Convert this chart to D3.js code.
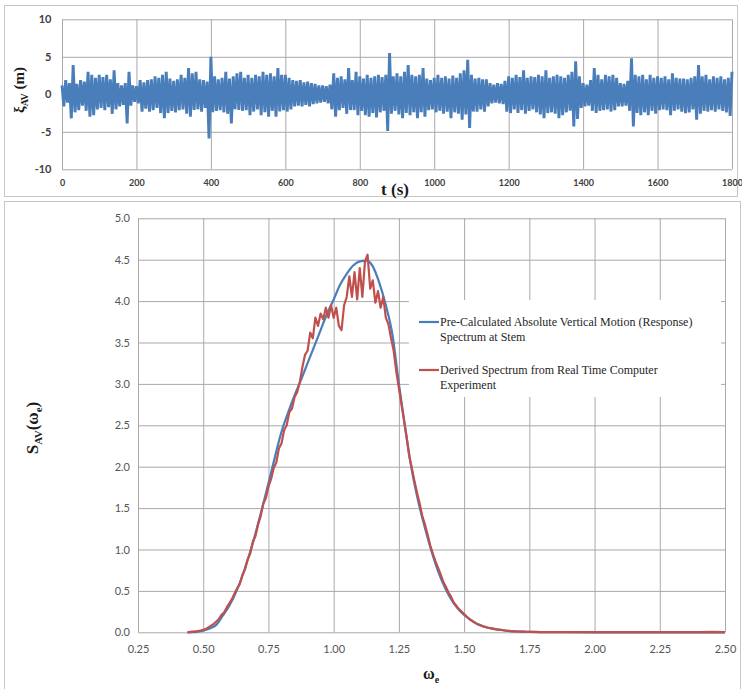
<!DOCTYPE html>
<html>
<head>
<meta charset="utf-8">
<script src="https://cdn.jsdelivr.net/npm/d3@7"></script>
<style>
  body { margin: 0; background: #fff; }
  svg { display: block; }
  .grid line { stroke: #a9a9a9; stroke-width: 1; }
  .grid path { display: none; }
  .ax path, .ax line { display: none; }
  .topTick text { font-family: Lato, "Open Sans", sans-serif; font-weight: bold; fill: #404040; }
  .botTick text { font-family: Lato, "Open Sans", sans-serif; fill: #555; font-size: 11px; }
  .title { font-family: "Liberation Serif", "DejaVu Serif", serif; font-weight: bold; fill: #1a1a1a; }
  .legend text { font-family: "Liberation Serif", "DejaVu Serif", serif; font-size: 12px; fill: #262626; }
</style>
</head>
<body>
<svg id="chart" width="742" height="689"></svg>
<script>
// heave record, one extreme every 5 s
var heaveStep = 5;
var heave = [
  1.2,-1.6,1.9,-1.1,1.5,-3.2,3.9,-2.4,1.4,-2.1,1.9,-1.5,1.7,-2.2,3.0,-3.0,2.6,-2.8,2.2,-2.0,
  2.6,-1.8,2.3,-2.1,2.6,-1.7,2.0,-2.6,3.2,-2.0,1.5,-1.6,1.2,-1.4,1.5,-3.9,3.0,-1.5,1.2,-1.0,
  1.1,-1.2,1.9,-2.3,1.6,-1.9,1.9,-2.3,2.0,-2.1,2.4,-1.8,2.2,-2.5,2.6,-3.2,3.0,-2.5,2.1,-2.2,
  1.8,-2.4,2.0,-2.1,2.6,-2.0,2.2,-2.6,3.5,-3.0,2.8,-2.1,3.0,-2.0,2.0,-2.3,1.9,-1.8,1.7,-5.9,
  5.0,-2.4,2.4,-2.2,2.0,-2.1,2.2,-2.4,3.0,-2.6,2.1,-3.9,2.4,-2.0,2.8,-2.1,3.0,-2.2,2.2,-2.1,
  2.6,-2.8,2.2,-2.3,2.6,-2.0,2.4,-2.8,3.0,-2.4,2.6,-3.0,2.8,-2.2,2.4,-3.0,3.5,-2.3,2.6,-2.1,
  2.6,-2.3,2.2,-2.0,1.9,-1.6,1.8,-1.5,1.9,-1.6,1.6,-1.4,1.7,-1.6,1.5,-1.3,1.4,-1.2,1.2,-1.1,
  1.2,-1.0,1.1,-1.2,1.3,-2.0,2.8,-3.0,2.2,-2.1,2.4,-1.8,2.0,-2.6,3.5,-2.1,1.9,-2.1,3.0,-2.8,
  2.4,-2.2,2.1,-2.8,2.6,-3.0,2.2,-2.5,2.4,-3.1,2.6,-2.4,2.3,-2.2,2.6,-4.9,5.5,-2.6,2.4,-2.2,
  2.8,-2.7,2.4,-3.2,3.0,-2.5,3.9,-2.8,2.6,-2.4,2.4,-3.2,2.6,-2.4,3.5,-3.0,2.1,-2.1,1.9,-2.0,
  2.2,-2.4,2.6,-2.2,2.2,-2.6,2.4,-2.3,2.1,-3.2,2.5,-2.4,2.2,-2.6,2.8,-3.4,3.2,-2.7,4.6,-4.5,
  2.6,-2.3,2.1,-2.3,2.2,-2.0,2.0,-2.3,2.0,-1.6,1.5,-1.2,1.3,-1.1,1.5,-1.2,1.4,-1.3,1.8,-2.3,
  2.4,-2.5,2.2,-2.0,2.6,-2.5,2.3,-2.1,3.2,-2.6,2.2,-2.2,2.4,-2.0,2.3,-2.4,2.6,-2.7,2.4,-3.2,
  3.2,-2.5,2.2,-2.4,2.4,-2.6,2.6,-3.2,2.4,-2.8,2.2,-2.4,2.6,-2.2,3.0,-4.3,4.4,-3.3,2.4,-1.8,
  1.5,-1.6,1.3,-1.5,1.9,-2.2,3.5,-2.5,2.6,-2.2,2.0,-2.1,2.6,-2.0,2.4,-2.3,2.6,-2.1,2.2,-1.6,
  1.5,-1.6,1.4,-1.5,1.8,-2.2,4.8,-4.3,2.6,-2.5,2.4,-2.8,2.6,-2.4,2.0,-2.8,2.6,-2.2,2.2,-2.6,
  2.4,-2.1,2.2,-2.0,2.4,-2.1,2.0,-2.8,2.8,-2.2,2.2,-2.0,2.1,-2.3,2.1,-2.5,2.0,-2.4,2.2,-2.0,
  2.4,-3.4,3.9,-2.6,2.4,-2.2,2.6,-2.3,2.0,-2.1,2.4,-2.3,2.2,-2.0,2.4,-2.2,2.0,-2.4,2.2,-2.9,
  3.0
];

// pre-calculated response spectrum (blue)
var omegaPre = [0.44,0.475,0.50,0.525,0.55,0.575,0.60,0.625,0.65,0.675,0.70,0.725,0.75,0.775,0.80,0.825,
  0.85,0.875,0.90,0.925,0.95,0.975,1.00,1.025,1.05,1.075,1.10,1.125,1.15,1.175,1.20,1.225,1.25,1.275,
  1.30,1.325,1.35,1.375,1.40,1.425,1.45,1.475,1.50,1.525,1.55,1.575,1.60,1.65,1.70,1.75,1.80,1.90,2.00,2.50];
var specPre = [0,0.005,0.02,0.045,0.09,0.20,0.32,0.48,0.68,0.92,1.19,1.49,1.80,2.12,2.42,2.65,
  2.86,3.05,3.25,3.45,3.65,3.85,4.02,4.20,4.33,4.43,4.48,4.49,4.42,4.22,3.95,3.60,3.00,2.45,
  1.95,1.57,1.26,0.98,0.74,0.55,0.40,0.29,0.21,0.15,0.10,0.07,0.05,0.025,0.01,0.005,0.002,0.001,0,0];

// derived spectrum from the experiment (red), every 0.01 from 0.44
var expStart = 0.44, expStep = 0.01;
var specExp = [
  0,0.005,0.008,0.01,0.015,0.02,0.03,0.04,0.06,0.08,
  0.10,0.13,0.16,0.21,0.24,0.30,0.35,0.40,0.47,0.53,
  0.58,0.69,0.76,0.88,0.95,1.09,1.16,1.30,1.40,1.55,
  1.62,1.76,1.85,1.98,2.05,2.22,2.28,2.44,2.50,2.66,
  2.70,2.84,2.90,3.02,3.20,3.35,3.40,3.62,3.55,3.80,
  3.70,3.85,3.78,3.92,3.80,3.95,3.80,3.92,3.70,3.65,
  3.95,4.05,4.30,4.05,4.35,4.02,4.40,4.05,4.48,4.56,
  4.15,4.25,3.98,4.12,3.92,4.05,3.80,3.72,3.55,3.40,
  3.15,2.95,2.75,2.55,2.35,2.12,1.98,1.82,1.68,1.55,
  1.40,1.30,1.18,1.05,0.95,0.86,0.78,0.70,0.61,0.55,
  0.48,0.43,0.36,0.32,0.28,0.25,0.22,0.19,0.16,0.14,
  0.12,0.10,0.09,0.075,0.065,0.055,0.05,0.045,0.035,0.032,
  0.03,0.025,0.02,0.018,0.015,0.012,0.01,0.009,0.008,0.007,
  0.006,0.005,0.005,0.004,0.004,0.003,0.003
];
var omegaExpTail = [1.90, 2.00, 2.20, 2.40, 2.45, 2.50];
var specExpTail = [0.002, 0.001, 0.001, 0.001, 0.004, 0.001];

var topTicksX = [0,200,400,600,800,1000,1200,1400,1600,1800];
var topTicksY = [-10,-5,0,5,10];
var botTicksX = [0.25,0.50,0.75,1.00,1.25,1.50,1.75,2.00,2.25,2.50];
var botTicksY = [0,0.5,1.0,1.5,2.0,2.5,3.0,3.5,4.0,4.5,5.0];
var legendLines = [
  ["Pre-Calculated Absolute Vertical Motion (Response)", "Spectrum at Stem"],
  ["Derived Spectrum from Real Time Computer", "Experiment"]
];
var legendColors = ["#4a7ebb", "#c0504d"];

var svg = d3.select('#chart');

// panel frames
svg.append('rect').attr('x', 4.5).attr('y', 5.5).attr('width', 733).attr('height', 191)
  .attr('fill', 'none').attr('stroke', '#c6c6c6');
svg.append('rect').attr('x', 4.5).attr('y', 201.5).attr('width', 736).attr('height', 500)
  .attr('fill', 'none').attr('stroke', '#c6c6c6');

/* ---------- top panel: time history ---------- */
var xT = d3.scaleLinear().domain([0, 1800]).range([62, 732]);
var yT = d3.scaleLinear().domain([-10, 10]).range([169.3, 19.3]);

svg.append('g').attr('class', 'grid')
  .attr('transform', 'translate(0,169.3)')
  .call(d3.axisBottom(xT).tickValues(topTicksX).tickSize(-150).tickFormat(''));
svg.append('g').attr('class', 'grid')
  .attr('transform', 'translate(62,0)')
  .call(d3.axisLeft(yT).tickValues(topTicksY).tickSize(-670).tickFormat(''));

var heaveLine = d3.line()
  .x(function(d, i) { return xT(i * heaveStep) })
  .y(function(d) { return yT(d) });
svg.append('path').datum(heave)
  .attr('d', heaveLine)
  .attr('fill', 'none').attr('stroke', '#4a7ebb').attr('stroke-width', 2.9)
  .attr('stroke-linejoin', 'bevel');

svg.append('g').attr('class', 'ax topTick')
  .attr('transform', 'translate(0,169.3)')
  .call(d3.axisBottom(xT).tickValues(topTicksX).tickSize(0).tickPadding(10.5)
    .tickFormat(function(d) { return String(d) }))
  .selectAll('text').style('font-size', '9px');
svg.append('g').attr('class', 'ax topTick')
  .attr('transform', 'translate(62,0)')
  .call(d3.axisLeft(yT).tickValues(topTicksY).tickSize(0).tickPadding(10.5)
    .tickFormat(function(d) { return String(d) }))
  .selectAll('text').style('font-size', '11px');

svg.append('text').attr('class', 'title')
  .attr('x', 395).attr('y', 195).attr('text-anchor', 'middle')
  .style('font-size', '17px').text('t (s)');

var yl = svg.append('text').attr('class', 'title')
  .attr('transform', 'translate(24,90) rotate(-90)')
  .attr('text-anchor', 'middle').style('font-size', '15px');
yl.append('tspan').text('ξ');
yl.append('tspan').attr('dy', 4).style('font-size', '10px').text('AV');
yl.append('tspan').attr('dy', -4).text(' (m)');

/* ---------- bottom panel: spectra ---------- */
var xB = d3.scaleLinear().domain([0.25, 2.5]).range([138, 725]);
var yB = d3.scaleLinear().domain([0, 5]).range([632.3, 218.3]);

svg.append('g').attr('class', 'grid')
  .attr('transform', 'translate(0,632.3)')
  .call(d3.axisBottom(xB).tickValues(botTicksX).tickSize(-414).tickFormat(''));
svg.append('g').attr('class', 'grid')
  .attr('transform', 'translate(138,0)')
  .call(d3.axisLeft(yB).tickValues(botTicksY).tickSize(-587).tickFormat(''));

svg.append('g').attr('class', 'ax botTick')
  .attr('transform', 'translate(0,632.3)')
  .call(d3.axisBottom(xB).tickValues(botTicksX).tickSize(0).tickPadding(13).tickFormat(d3.format('.2f')));
svg.append('g').attr('class', 'ax botTick')
  .attr('transform', 'translate(138,0)')
  .call(d3.axisLeft(yB).tickValues(botTicksY).tickSize(0).tickPadding(8).tickFormat(d3.format('.1f')));

var preData = omegaPre.map(function(w, i) { return [w, specPre[i]] });
var expData = specExp.map(function(s, i) { return [expStart + i * expStep, s] });
omegaExpTail.forEach(function(w, i) { expData.push([w, specExpTail[i]]) });

svg.append('path').datum(preData)
  .attr('d', d3.line().curve(d3.curveMonotoneX)
    .x(function(d) { return xB(d[0]) }).y(function(d) { return yB(d[1]) }))
  .attr('fill', 'none').attr('stroke', legendColors[0]).attr('stroke-width', 2.2);
svg.append('path').datum(expData)
  .attr('d', d3.line()
    .x(function(d) { return xB(d[0]) }).y(function(d) { return yB(d[1]) }))
  .attr('fill', 'none').attr('stroke', legendColors[1]).attr('stroke-width', 2.2)
  .attr('stroke-linejoin', 'round');

// legend
var lg = svg.append('g').attr('class', 'legend');
lg.append('rect').attr('x', 409).attr('y', 300).attr('width', 312).attr('height', 97).attr('fill', '#fff');
legendLines.forEach(function(lines, i) {
  var y0 = 322 + i * 48;
  lg.append('line').attr('x1', 419).attr('x2', 439).attr('y1', y0).attr('y2', y0)
    .attr('stroke', legendColors[i]).attr('stroke-width', 2.2);
  lines.forEach(function(t, j) {
    lg.append('text').attr('x', 440).attr('y', y0 + 4 + j * 14.5).text(t);
  });
});

svg.append('text').attr('class', 'title')
  .attr('x', 431).attr('y', 679).attr('text-anchor', 'middle').style('font-size', '16px')
  .call(function(t) {
    t.append('tspan').text('ω');
    t.append('tspan').attr('dy', 4).style('font-size', '10px').text('e');
  });

var sl = svg.append('text').attr('class', 'title')
  .attr('transform', 'translate(38,428) rotate(-90)')
  .attr('text-anchor', 'middle').style('font-size', '17px');
sl.append('tspan').text('S');
sl.append('tspan').attr('dy', 4).style('font-size', '11px').text('AV');
sl.append('tspan').attr('dy', -4).text('(ω');
sl.append('tspan').attr('dy', 4).style('font-size', '11px').text('e');
sl.append('tspan').attr('dy', -4).text(')');
</script>
</body>
</html>
